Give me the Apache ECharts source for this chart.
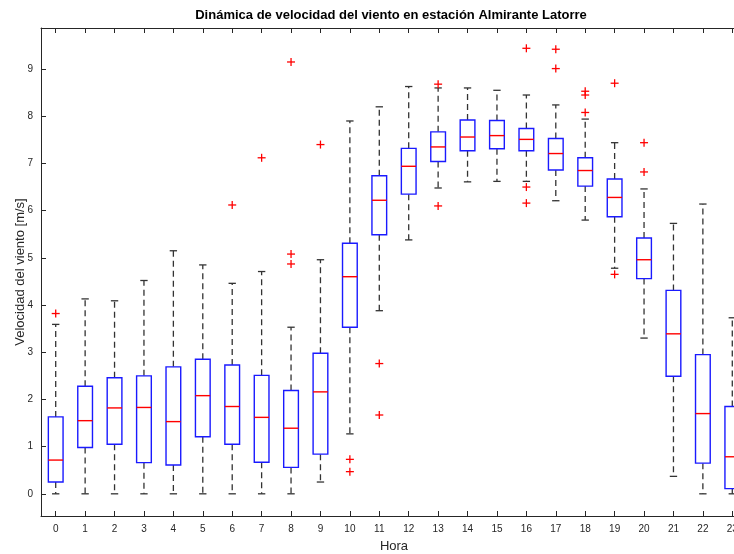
<!DOCTYPE html>
<html>
<head>
<meta charset="utf-8">
<script src="https://cdn.jsdelivr.net/npm/echarts@6/dist/echarts.min.js"></script>
<style>
html,body{margin:0;padding:0;background:#fff;overflow:hidden;width:734px;height:554px;}
#chart{width:747px;height:554px;}
</style>
</head>
<body>
<div id="chart"></div>
<script>
var hours = ['0','1','2','3','4','5','6','7','8','9','10','11','12','13','14','15','16','17','18','19','20','21','22','23'];
var whiskerLow  = [0, 0, 0, 0, 0, 0, 0, 0, 0, 0.25, 1.27, 3.88, 5.38, 6.48, 6.61, 6.62, 6.62, 6.21, 5.80, 4.78, 3.30, 0.37, 0, 0];
var q1          = [0.25, 0.98, 1.05, 0.66, 0.61, 1.21, 1.05, 0.67, 0.56, 0.84, 3.53, 5.49, 6.35, 7.04, 7.27, 7.31, 7.27, 6.86, 6.52, 5.87, 4.56, 2.49, 0.65, 0.11];
var median      = [0.715, 1.55, 1.82, 1.83, 1.53, 2.08, 1.85, 1.62, 1.39, 2.16, 4.60, 6.22, 6.94, 7.35, 7.56, 7.59, 7.51, 7.21, 6.85, 6.28, 4.96, 3.39, 1.70, 0.785];
var q3          = [1.63, 2.28, 2.46, 2.50, 2.69, 2.85, 2.73, 2.51, 2.19, 2.98, 5.31, 6.74, 7.32, 7.67, 7.92, 7.91, 7.74, 7.53, 7.12, 6.67, 5.42, 4.31, 2.95, 1.85];
var whiskerHigh = [3.59, 4.13, 4.09, 4.52, 5.15, 4.85, 4.46, 4.71, 3.53, 4.96, 7.90, 8.20, 8.63, 8.60, 8.60, 8.55, 8.45, 8.24, 7.94, 7.44, 6.46, 5.73, 6.14, 3.73];
var outlierHour  = [0, 6, 7, 8, 8, 8, 9, 10, 10, 11, 11, 13, 13, 16, 16, 16, 17, 17, 18, 18, 18, 19, 19, 20, 20];
var outlierValue = [3.82, 6.12, 7.12, 9.15, 5.08, 4.87, 7.40, 0.73, 0.47, 2.76, 1.67, 8.68, 6.10, 9.44, 6.50, 6.16, 9.42, 9.01, 8.53, 8.45, 8.08, 8.70, 4.65, 7.44, 6.82];
var yTicks = [0,1,2,3,4,5,6,7,8,9];

var boxData = hours.map(function(h, i){ return [i, whiskerLow[i], q1[i], median[i], q3[i], whiskerHigh[i]]; });
var outData = outlierHour.map(function(h, i){ return [h, outlierValue[i]]; });

var axisColor = '#262626';
var font = 'Liberation Sans, Arial, Helvetica, sans-serif';

var chart = echarts.init(document.getElementById('chart'), null, {renderer:'canvas'});

function sk(color, w, dash){
  var s = {stroke:color, fill:null, lineWidth:w, strokeOpacity:0.999};
  if (dash) s.lineDash = dash;
  return s;
}

function renderBox(params, api){
  var idx = api.value(0);
  var pLow = api.coord([idx, api.value(1)]);
  var pQ1 = api.coord([idx, api.value(2)]);
  var pMed = api.coord([idx, api.value(3)]);
  var pQ3 = api.coord([idx, api.value(4)]);
  var pHigh = api.coord([idx, api.value(5)]);
  var band = api.size([1, 0])[0];
  var bw = band * 0.5;
  var cw = bw * 0.5;
  var x = pMed[0];
  var children = [
    {type:'line', shape:{x1:x, y1:pQ3[1], x2:x, y2:pHigh[1]}, style:sk('#333', 1.3, [6,4])},
    {type:'line', shape:{x1:x, y1:pQ1[1], x2:x, y2:pLow[1]}, style:sk('#333', 1.3, [6,4])},
    {type:'line', shape:{x1:x-cw/2, y1:pHigh[1], x2:x+cw/2, y2:pHigh[1]}, style:sk('#333', 1.3)},
    {type:'line', shape:{x1:x-cw/2, y1:pLow[1], x2:x+cw/2, y2:pLow[1]}, style:sk('#333', 1.3)},
    {type:'rect', shape:{x:x-bw/2, y:pQ3[1], width:bw, height:pQ1[1]-pQ3[1]}, style:{fill:'#fff', stroke:'#1a1aff', lineWidth:1.4}},
    {type:'line', shape:{x1:x-bw/2, y1:pMed[1], x2:x+bw/2, y2:pMed[1]}, style:sk('#ff0000', 1.4)}
  ];
  return {type:'group', children:children};
}

function renderOut(params, api){
  var p = api.coord([api.value(0), api.value(1)]);
  var x = p[0], y = p[1], r = 4;
  return {type:'group', children:[
    {type:'line', shape:{x1:x-r, y1:y, x2:x+r, y2:y}, style:sk('#ff0000', 1.3)},
    {type:'line', shape:{x1:x, y1:y-r, x2:x, y2:y+r}, style:sk('#ff0000', 1.3)}
  ]};
}

chart.setOption({
  animation:false,
  backgroundColor:'#fff',
  graphic:[{
    type:'text', x:391, y:9,
    style:{text:'Dinámica de velocidad del viento en estación Almirante Latorre', font:'bold 13px ' + font, fill:'#000', align:'center', verticalAlign:'top'}
  }],
  grid:{left:41, right:0, top:28, bottom:38, containLabel:false, outerBoundsMode:'none'},
  xAxis:[{
    type:'category', data:hours, boundaryGap:true, position:'bottom',
    name:'Hora', nameLocation:'middle', nameGap:24, nameMoveOverlap:false,
    nameTextStyle:{fontFamily:font, fontSize:13, color:axisColor},
    axisLine:{show:true, onZero:false, lineStyle:{color:axisColor, width:1}},
    axisTick:{show:true, inside:true, length:5, alignWithLabel:true, lineStyle:{color:axisColor}},
    axisLabel:{fontFamily:font, fontSize:10, color:axisColor, margin:8, interval:0},
    splitLine:{show:false}
  },{
    type:'category', data:hours, boundaryGap:true, position:'top',
    axisLine:{show:true, onZero:false, lineStyle:{color:axisColor, width:1}},
    axisTick:{show:true, inside:true, length:5, alignWithLabel:true, lineStyle:{color:axisColor}},
    axisLabel:{show:false}, splitLine:{show:false}
  }],
  yAxis:[{
    type:'value', min:-0.47, max:9.87,
    name:'Velocidad del viento [m/s]', nameLocation:'middle', nameGap:14, nameMoveOverlap:false,
    nameTextStyle:{fontFamily:font, fontSize:13, color:axisColor},
    axisLine:{show:true, onZero:false, lineStyle:{color:axisColor, width:1}},
    axisTick:{show:true, inside:true, length:5, customValues:yTicks, lineStyle:{color:axisColor}},
    axisLabel:{fontFamily:font, fontSize:10, color:axisColor, margin:8, customValues:yTicks},
    splitLine:{show:false}
  },{
    type:'value', min:-0.47, max:9.87, position:'right',
    axisLine:{show:true, onZero:false, lineStyle:{color:axisColor, width:1}},
    axisTick:{show:true, inside:true, length:5, customValues:yTicks, lineStyle:{color:axisColor}},
    axisLabel:{show:false}, splitLine:{show:false}
  }],
  series:[{
    type:'custom', name:'box', xAxisIndex:0, yAxisIndex:0,
    renderItem:renderBox, data:boxData, encode:{x:0, y:[1,2,3,4,5]}, clip:false
  },{
    type:'custom', name:'outliers', xAxisIndex:0, yAxisIndex:0,
    renderItem:renderOut, data:outData, encode:{x:0, y:1}, clip:false
  }]
});
</script>
</body>
</html>
